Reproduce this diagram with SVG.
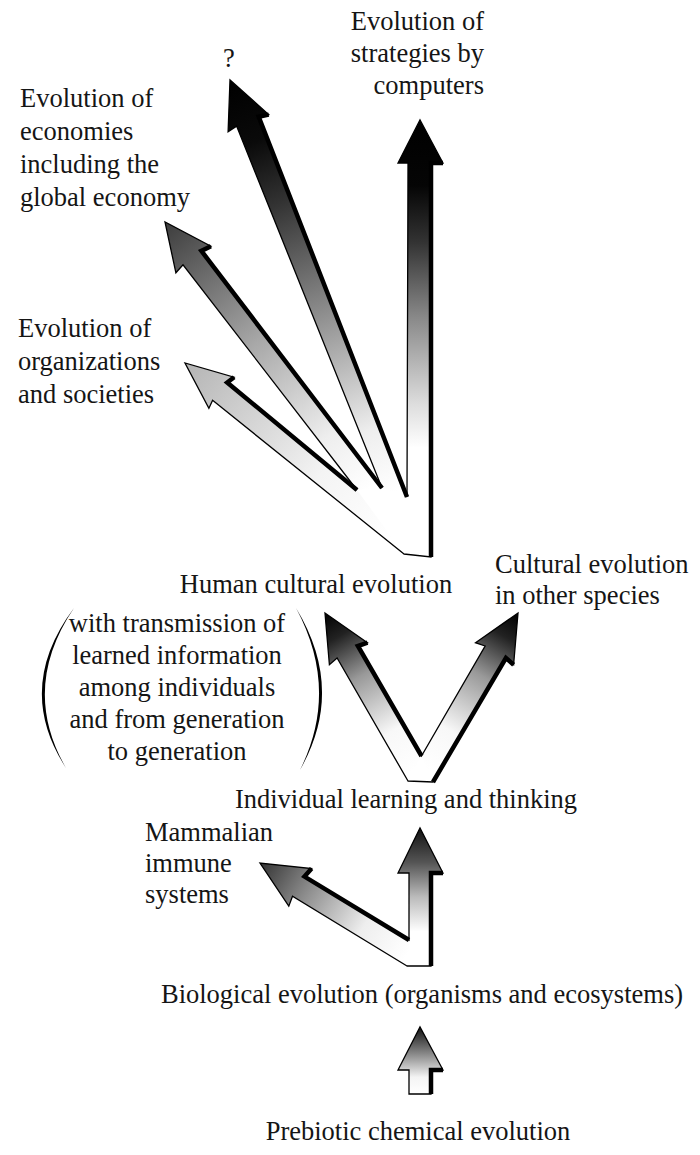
<svg xmlns="http://www.w3.org/2000/svg" width="700" height="1155" viewBox="0 0 700 1155">
<style>
.t{font-family:"Liberation Serif","Times New Roman",serif;font-size:26.5px;fill:#151515}
.m{text-anchor:middle}
.e{text-anchor:end}
.ol{fill:none;stroke:#000;stroke-width:1.3;stroke-linejoin:miter}
.sh{fill:none;stroke:#000;stroke-width:4.5;stroke-linejoin:miter;stroke-linecap:butt}
.wb{fill:#fff;stroke:none}
</style>
<defs>
<linearGradient id="gO" gradientUnits="userSpaceOnUse" x1="390" y1="540" x2="185" y2="363">
<stop offset="0" stop-color="#fff"/><stop offset="0.35" stop-color="#f4f4f4"/><stop offset="1" stop-color="#b4b4b4"/>
</linearGradient>
<linearGradient id="gE" gradientUnits="userSpaceOnUse" x1="370" y1="489" x2="165" y2="222">
<stop offset="0" stop-color="#fff"/><stop offset="0.2" stop-color="#eee"/><stop offset="0.55" stop-color="#a8a8a8"/><stop offset="1" stop-color="#3c3c3c"/>
</linearGradient>
<linearGradient id="gQ" gradientUnits="userSpaceOnUse" x1="395" y1="492" x2="230" y2="80">
<stop offset="0" stop-color="#fff"/><stop offset="0.15" stop-color="#eee"/><stop offset="0.4" stop-color="#999"/><stop offset="0.7" stop-color="#333"/><stop offset="0.85" stop-color="#0a0a0a"/><stop offset="1" stop-color="#000"/>
</linearGradient>
<linearGradient id="gC" gradientUnits="userSpaceOnUse" x1="0" y1="557" x2="0" y2="120">
<stop offset="0" stop-color="#fff"/><stop offset="0.25" stop-color="#fff"/><stop offset="0.35" stop-color="#ddd"/><stop offset="0.55" stop-color="#888"/><stop offset="0.72" stop-color="#333"/><stop offset="0.85" stop-color="#050505"/><stop offset="1" stop-color="#000"/>
</linearGradient>
<linearGradient id="gHL" gradientUnits="userSpaceOnUse" x1="415" y1="770" x2="325" y2="613">
<stop offset="0" stop-color="#fff"/><stop offset="0.25" stop-color="#f8f8f8"/><stop offset="0.6" stop-color="#999"/><stop offset="0.85" stop-color="#222"/><stop offset="1" stop-color="#000"/>
</linearGradient>
<linearGradient id="gHR" gradientUnits="userSpaceOnUse" x1="428" y1="770" x2="518" y2="613">
<stop offset="0" stop-color="#fff"/><stop offset="0.25" stop-color="#f8f8f8"/><stop offset="0.6" stop-color="#999"/><stop offset="0.85" stop-color="#222"/><stop offset="1" stop-color="#000"/>
</linearGradient>
<linearGradient id="gM" gradientUnits="userSpaceOnUse" x1="407" y1="955" x2="260" y2="863">
<stop offset="0" stop-color="#fff"/><stop offset="0.3" stop-color="#eee"/><stop offset="0.7" stop-color="#888"/><stop offset="1" stop-color="#333"/>
</linearGradient>
<linearGradient id="gI" gradientUnits="userSpaceOnUse" x1="0" y1="966" x2="0" y2="828">
<stop offset="0" stop-color="#fff"/><stop offset="0.25" stop-color="#fff"/><stop offset="0.5" stop-color="#bbb"/><stop offset="0.75" stop-color="#555"/><stop offset="1" stop-color="#111"/>
</linearGradient>
<linearGradient id="gB" gradientUnits="userSpaceOnUse" x1="0" y1="1094" x2="0" y2="1027">
<stop offset="0" stop-color="#fff"/><stop offset="0.25" stop-color="#f4f4f4"/><stop offset="0.6" stop-color="#888"/><stop offset="1" stop-color="#111"/>
</linearGradient>
</defs>
<rect width="700" height="1155" fill="#fff"/>

<g id="connectors">
<!-- top fan -->
<g id="fan">
<path class="wb" d="M404,554 L212.6,400.3 L208.9,408.2 L185,363 L234.1,377.2 L227.2,382.5 L357,490 L183,264.8 L175.9,272.8 L165,222 L210.9,246.2 L201.4,250.9 L382,488 L236.6,126.1 L228.1,131.8 L230,80 L268.7,114.6 L258.7,116.7 L407,497 L408,163 L398,163 L420,120 L443,163 L431,163 L431,557 Z"/>
<polygon fill="url(#gO)" points="212.6,400.3 208.9,408.2 185,363 234.1,377.2 227.2,382.5 357,490 404,554"/>
<polygon fill="url(#gE)" points="183,264.8 175.9,272.8 165,222 210.9,246.2 201.4,250.9 382,488 357,490"/>
<polygon fill="url(#gQ)" points="236.6,126.1 228.1,131.8 230,80 268.7,114.6 258.7,116.7 407,497 382,488"/>
<polygon fill="url(#gC)" points="408,163 398,163 420,120 443,163 431,163 431,557 408,557"/>
<path class="ol" d="M404,554 L212.6,400.3 L208.9,408.2 L185,363 L234.1,377.2 L227.2,382.5 L357,490 L183,264.8 L175.9,272.8 L165,222 L210.9,246.2 L201.4,250.9 L382,488 L236.6,126.1 L228.1,131.8 L230,80 L268.7,114.6 L258.7,116.7 L407,497 L408,163 L398,163 L420,120 L443,163 L431,163 L431,557 Z"/>
<polyline class="sh" points="234.1,377.2 227.2,382.5 357,490"/>
<polyline class="sh" points="210.9,246.2 201.4,250.9 382,488"/>
<polyline class="sh" points="268.7,114.6 258.7,116.7 407,497"/>
<polyline class="sh" points="443,163 431,163 431,557"/>
</g>
<!-- middle V -->
<g id="cultural-v">
<path class="wb" d="M408,781 L337.1,658 L329.4,664.7 L325,613 L367.5,642.7 L357.9,646 L421.5,756 L485.1,646 L475.5,642.7 L518,613 L513.6,664.7 L505.9,658 L433,782 Z"/>
<polygon fill="url(#gHL)" points="337.1,658 329.4,664.7 325,613 367.5,642.7 357.9,646 421.5,756 408,781"/>
<polygon fill="url(#gHR)" points="485.1,646 475.5,642.7 518,613 513.6,664.7 505.9,658 433,782 421.5,756"/>
<path class="ol" d="M408,781 L337.1,658 L329.4,664.7 L325,613 L367.5,642.7 L357.9,646 L421.5,756 L485.1,646 L475.5,642.7 L518,613 L513.6,664.7 L505.9,658 L433,782 Z"/>
<polyline class="sh" points="367.5,642.7 357.9,646 421.5,756"/>
<polyline class="sh" points="513.6,664.7 505.9,658 433,782"/>
</g>
<!-- lower V -->
<g id="learning-v">
<path class="wb" d="M407,966 L292.5,896.2 L288.8,906.2 L260,863 L311.6,868.6 L304.5,876.6 L409,940 L409,873 L398,873 L420,828 L443,873 L431,873 L431,966 Z"/>
<polygon fill="url(#gM)" points="407,966 292.5,896.2 288.8,906.2 260,863 311.6,868.6 304.5,876.6 409,940 409,966"/>
<polygon fill="url(#gI)" points="409,873 398,873 420,828 443,873 431,873 431,966 409,966"/>
<path class="ol" d="M407,966 L292.5,896.2 L288.8,906.2 L260,863 L311.6,868.6 L304.5,876.6 L409,940 L409,873 L398,873 L420,828 L443,873 L431,873 L431,966 Z"/>
<polyline class="sh" points="311.6,868.6 304.5,876.6 409,940"/>
<polyline class="sh" points="443,873 431,873 431,966"/>
</g>
<!-- bottom arrow -->
<g id="prebiotic-arrow">
<path fill="url(#gB)" d="M409,1094 L409,1070 L398,1070 L420,1027 L443,1070 L431,1070 L431,1094 Z"/>
<path class="ol" d="M409,1094 L409,1070 L398,1070 L420,1027 L443,1070 L431,1070 L431,1094 Z"/>
<polyline class="sh" points="443,1070 431,1070 431,1094"/>
</g>
</g>

<g id="node-computers">
<text class="t e" x="484" y="30">Evolution of</text>
<text class="t e" x="484" y="62">strategies by</text>
<text class="t e" x="484" y="94">computers</text>
</g>
<g id="node-unknown">
<text class="t m" x="229" y="67">?</text>
</g>
<g id="node-economies">
<text class="t" x="20" y="107">Evolution of</text>
<text class="t" x="20" y="140">economies</text>
<text class="t" x="20" y="173">including the</text>
<text class="t" x="20" y="206">global economy</text>
</g>
<g id="node-organizations">
<text class="t" x="18" y="337">Evolution of</text>
<text class="t" x="18" y="370">organizations</text>
<text class="t" x="18" y="403">and societies</text>
</g>
<g id="node-human">
<text class="t m" x="316" y="593">Human cultural evolution</text>
<path fill="#000" d="M74,608 Q14,688 66,768 Q20,688 74,608 Z"/>
<path fill="#000" d="M296,608 Q346,690 300,770 Q340,690 296,608 Z"/>
<text class="t m" x="177" y="632">with transmission of</text>
<text class="t m" x="177" y="664">learned information</text>
<text class="t m" x="177" y="696">among individuals</text>
<text class="t m" x="177" y="728">and from generation</text>
<text class="t m" x="177" y="760">to generation</text>
</g>
<g id="node-other-species">
<text class="t" x="495" y="573">Cultural evolution</text>
<text class="t" x="495" y="604">in other species</text>
</g>
<g id="node-individual">
<text class="t m" x="406" y="808">Individual learning and thinking</text>
</g>
<g id="node-immune">
<text class="t" x="145" y="841">Mammalian</text>
<text class="t" x="145" y="872">immune</text>
<text class="t" x="145" y="903">systems</text>
</g>
<g id="node-biological">
<text class="t m" x="422" y="1003">Biological evolution (organisms and ecosystems)</text>
</g>
<g id="node-prebiotic">
<text class="t m" x="418" y="1140">Prebiotic chemical evolution</text>
</g>
</svg>
